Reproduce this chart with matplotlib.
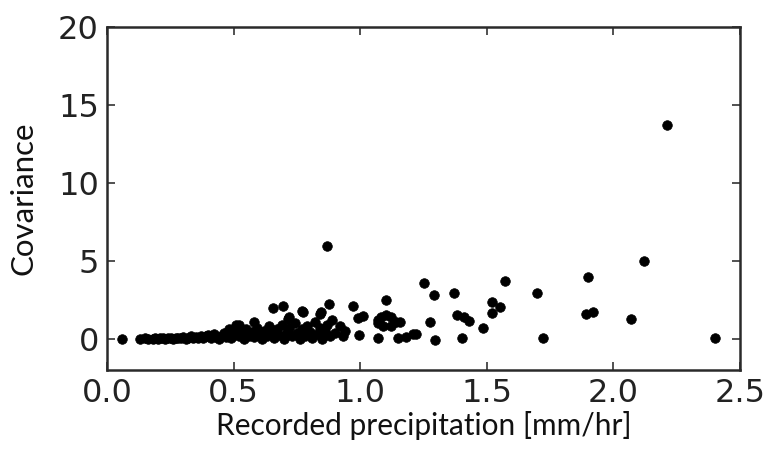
import matplotlib
matplotlib.use("Agg")
from matplotlib import pyplot as plt

# dense band of low-rate points
band_x = [0.06, 0.13, 0.15, 0.16, 0.18, 0.19, 0.20, 0.21, 0.22, 0.23, 0.24, 0.25,
          0.26, 0.27, 0.28, 0.29, 0.30, 0.31, 0.32, 0.33, 0.34, 0.35, 0.36, 0.37,
          0.38, 0.39, 0.40, 0.41, 0.42, 0.43, 0.44, 0.45, 0.46, 0.47, 0.48, 0.49,
          0.50, 0.51, 0.52, 0.53, 0.54, 0.55, 0.56, 0.57, 0.58, 0.59, 0.60, 0.61,
          0.62, 0.63, 0.64, 0.65, 0.66, 0.67, 0.68, 0.69, 0.70, 0.71, 0.72, 0.73,
          0.74, 0.75, 0.76, 0.77, 0.78, 0.79, 0.80, 0.81, 0.82, 0.83, 0.84, 0.85,
          0.86, 0.87, 0.88, 0.89, 0.90, 0.92, 0.93]
band_y = [0.0, 0.0, 0.02, 0.0, 0.01, 0.03, 0.0, 0.02, 0.05, 0.0, 0.03, 0.06,
          0.01, 0.04, 0.08, 0.02, 0.10, 0.0, 0.05, 0.15, 0.03, 0.12, 0.07, 0.2,
          0.02, 0.15, 0.25, 0.08, 0.3, 0.12, 0.0, 0.2, 0.35, 0.1, 0.4, 0.05,
          0.25, 0.5, 0.15, 0.35, 0.0, 0.6, 0.2, 0.45, 0.1, 0.7, 0.3, 0.0,
          0.5, 0.15, 0.8, 0.35, 0.05, 0.6, 0.25, 0.9, 0.0, 0.45, 0.7, 0.15,
          1.0, 0.35, 0.0, 0.6, 0.2, 0.85, 0.45, 0.05, 1.1, 0.3, 0.7, 0.0,
          0.5, 0.9, 0.15, 1.2, 0.4, 0.8, 0.2]

# scattered points above the band and at higher rates
spread_x = [0.51, 0.58, 0.48, 0.52, 0.656, 0.695, 0.715, 0.72, 0.774, 0.77, 0.84, 0.845,
            0.877, 0.87, 0.94, 0.97, 0.995, 0.99, 1.01, 1.10, 1.07, 1.08, 1.10,
            1.12, 1.14, 1.12, 1.09, 1.07, 1.07, 1.15, 1.157, 1.18, 1.21, 1.22,
            1.25, 1.276, 1.29, 1.295, 1.37, 1.38, 1.40, 1.41, 1.43, 1.485,
            1.52, 1.55, 1.52, 1.57, 1.70, 1.72, 1.90, 1.89, 1.92, 2.07, 2.12,
            2.21, 2.40]
spread_y = [0.9, 1.09, 0.6, 0.9, 1.99, 2.1, 1.28, 1.4, 1.73, 1.8, 1.6, 1.73,
            2.24, 5.96, 0.5, 2.1, 0.26, 1.35, 1.47, 2.5, 1.0, 1.4, 1.5,
            1.4, 1.1, 0.8, 0.8, 1.2, 0.06, 0.06, 1.09, 0.13, 0.3, 0.3,
            3.6, 1.05, 2.8, -0.1, 2.95, 1.54, 0.06, 1.41, 1.15, 0.67,
            2.37, 2.05, 1.67, 3.7, 2.95, 0.03, 3.97, 1.6, 1.73, 1.28, 5.0,
            13.7, 0.06]

x_ticks = [0.0, 0.5, 1.0, 1.5, 2.0, 2.5]
y_ticks = [0, 5, 10, 15, 20]

fig = plt.figure(figsize=(7.83, 4.49), dpi=100)
ax = fig.add_axes([0.137, 0.176, 0.808, 0.764])

ax.scatter(band_x, band_y, s=48, c='k', edgecolors='k', linewidths=0.5)
ax.scatter(spread_x, spread_y, s=48, c='k', edgecolors='k', linewidths=0.5)

ax.set_xlim(0, 2.5)
ax.set_ylim(-2, 20)
ax.set_xticks(x_ticks)
ax.set_xticklabels(['%.1f' % v for v in x_ticks])
ax.set_yticks(y_ticks)

for s in ax.spines.values():
    s.set_linewidth(1.8)
    s.set_color('#2a2a2a')
ax.tick_params(direction='in', length=6, width=1.2, color='#333333',
               top=True, right=True, labelsize=23, labelcolor='#222222', pad=6)

ax.set_xlabel('Recorded precipitation [mm/hr]', family='Lato', fontsize=21.5,
              color='#111111', labelpad=1)
ax.set_ylabel('Covariance', family='Lato', fontsize=22.5,
              color='#111111', labelpad=15)

fig.savefig('out.png', dpi=100)
